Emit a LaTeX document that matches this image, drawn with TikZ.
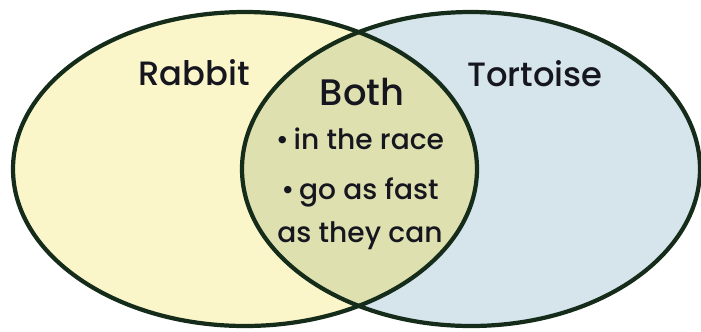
\documentclass[tikz,border=0pt]{standalone}
\usepackage{fontspec}
\setmainfont{Poppins Medium}
\usetikzlibrary{positioning}
\definecolor{rabbitY}{RGB}{250,246,202}
\definecolor{tortB}{RGB}{214,228,236}
\definecolor{bothG}{RGB}{222,224,176}
\definecolor{rimG}{RGB}{22,44,26}
\definecolor{inkD}{RGB}{22,22,30}

\begin{document}
\begin{tikzpicture}[font=\small,text=inkD]
  \useasboundingbox (0,0) rectangle (7.01,3.31);
  \def\yc{1.62}
  % the two sets
  \fill[rabbitY] (2.45,\yc) ellipse [x radius=2.32,y radius=1.57];
  \fill[tortB]   (4.71,\yc) ellipse [x radius=2.29,y radius=1.57];
  \begin{scope}
    \clip (2.45,\yc) ellipse [x radius=2.32,y radius=1.57];
    \fill[bothG] (4.71,\yc) ellipse [x radius=2.29,y radius=1.57];
  \end{scope}
  \draw[rimG,line width=1.2pt] (2.45,\yc) ellipse [x radius=2.32,y radius=1.57];
  \draw[rimG,line width=1.2pt] (4.71,\yc) ellipse [x radius=2.29,y radius=1.57];
  % labels
  \node[font=\fontsize{9.6}{11}\selectfont] (rabbit) at (1.94,2.58) {Rabbit};
  \node[font=\fontsize{9.6}{11}\selectfont] (tortoise) at (5.35,2.57) {Tortoise};
  \node[font=\fontsize{10.5}{12}\selectfont] (both) at (3.62,2.39) {Both};
  \node[font=\fontsize{8}{12.2}\selectfont,align=center] (facts) at (3.60,1.42)
    {\textbullet\,in the race\\[2pt]\textbullet\,go as fast\\as they can};
\end{tikzpicture}
\end{document}
